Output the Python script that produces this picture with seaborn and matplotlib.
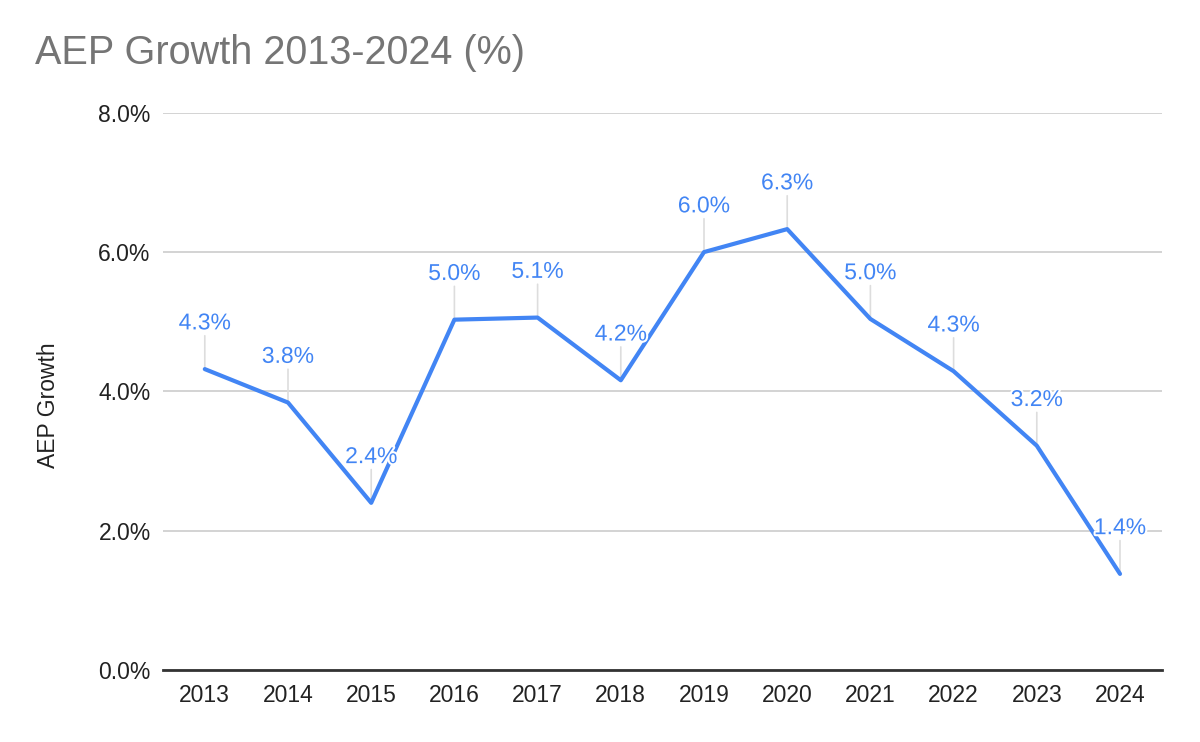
import matplotlib
matplotlib.use("Agg")
import matplotlib.pyplot as plt
import matplotlib.patheffects as pe
import pandas as pd
import seaborn as sns

years = ["2013", "2014", "2015", "2016", "2017", "2018",
         "2019", "2020", "2021", "2022", "2023", "2024"]
growth = [4.32, 3.84, 2.40, 5.03, 5.06, 4.16, 6.00, 6.33, 5.04, 4.29, 3.22, 1.38]
y_ticks = [0, 2, 4, 6, 8]

BLUE = "#4285F4"

df = pd.DataFrame({"year": years, "growth": growth})

sns.set_theme(style="white")
plt.rcParams["font.family"] = ["Liberation Sans", "DejaVu Sans"]

fig = plt.figure(figsize=(12, 7.42), dpi=100)
ax = fig.add_axes([0.136, 0.097, 0.832, 0.751])

sns.lineplot(data=df, x="year", y="growth", color=BLUE, linewidth=3,
             sort=False, ax=ax)

ax.set_ylim(0, 8)
ax.set_xlim(-0.5, len(years) - 0.5)
ax.set_yticks(y_ticks)
ax.set_yticklabels([f"{t:.1f}%" for t in y_ticks])
ax.yaxis.grid(True, color="#cccccc", linewidth=1.2)
ax.set_axisbelow(True)
ax.tick_params(axis="y", length=0, labelsize=16.5, colors="#222222", pad=9)
ax.tick_params(axis="x", length=0, labelsize=16.5, colors="#222222", pad=10)

for side in ("top", "right", "left"):
    ax.spines[side].set_visible(False)
ax.spines["bottom"].set_color("#333333")
ax.spines["bottom"].set_linewidth(2)

ax.set_xlabel("")
ax.set_ylabel("AEP Growth", fontsize=16.5, color="#222222")
ax.yaxis.set_label_coords(-0.103, 0.476)

# data labels with thin leader lines
for i, v in enumerate(growth):
    ax.annotate("", xy=(i, v), xytext=(0, 24), textcoords="offset points",
                arrowprops=dict(arrowstyle="-", color="#dddddd", lw=1.2,
                                shrinkA=0, shrinkB=0), zorder=1)
    ax.annotate(f"{v:.1f}%", xy=(i, v), xytext=(0, 25),
                textcoords="offset points", ha="center", va="bottom",
                fontsize=16.5, color=BLUE,
                path_effects=[pe.withStroke(linewidth=3, foreground="white")])

fig.text(0.029, 0.928, "AEP Growth 2013-2024 (%)", fontsize=28.5,
         color="#757575", ha="left", va="center")

fig.savefig("out.png", dpi=100, facecolor="white")
